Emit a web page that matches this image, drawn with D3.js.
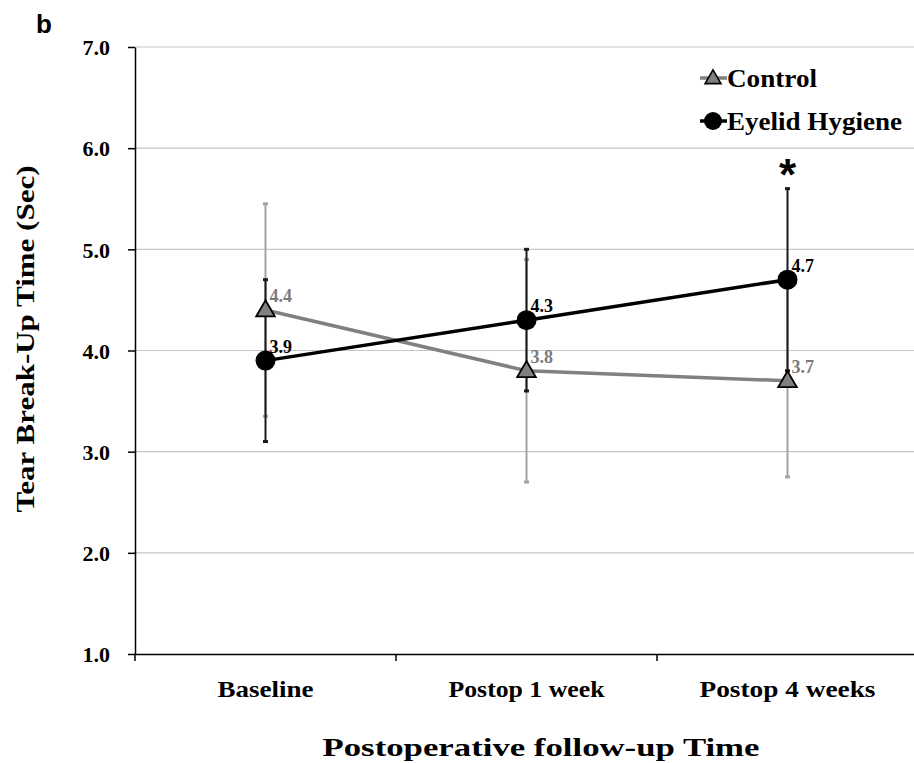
<!DOCTYPE html>
<html>
<head>
<meta charset="utf-8">
<script src="https://cdn.jsdelivr.net/npm/d3@7"></script>
<style>
  body { margin: 0; background: #fff; }
  text { font-family: "Times New Roman", Times, "Liberation Serif", "Nimbus Roman", serif; font-weight: bold; }
</style>
</head>
<body>
<svg id="chart" width="914" height="763"></svg>
<script>
const categories = ['Baseline', 'Postop 1 week', 'Postop 4 weeks'];
const controlMean = [4.4, 3.8, 3.7];
const controlErr = [1.05, 1.1, 0.95];
const hygieneMean = [3.9, 4.3, 4.7];
const hygieneErr = [0.8, 0.7, 0.9];
const yTicks = [1, 2, 3, 4, 5, 6, 7];
const significant = [false, false, true];

const serif = '"Times New Roman", Times, "Liberation Serif", serif';
const svg = d3.select('#chart');
const width = 914;
const margin = { top: 47, left: 135, bottom: 654 };

const x = d3.scaleBand().domain(categories).range([margin.left, 918]);
const y = d3.scaleLinear().domain([1, 7]).range([margin.bottom, margin.top]);
const cx = (d) => x(d) + x.bandwidth() / 2;

// gridlines
svg.append('g')
  .selectAll('line')
  .data(yTicks.slice(1))
  .join('line')
  .attr('x1', margin.left).attr('x2', width)
  .attr('y1', (d) => y(d)).attr('y2', (d) => y(d))
  .attr('stroke', '#c6c6c6').attr('stroke-width', 1.2);

// y axis
const yAxis = svg.append('g')
  .attr('transform', `translate(${margin.left},0)`)
  .call(d3.axisLeft(y).tickValues(yTicks).tickFormat(d3.format('.1f')).tickSize(7).tickSizeOuter(0));
yAxis.select('.domain').attr('stroke', '#000').attr('stroke-width', 1.5);
yAxis.selectAll('.tick line').attr('stroke', '#000').attr('stroke-width', 1.5);
yAxis.selectAll('.tick text')
  .attr('x', -25).attr('dy', '0.35em')
  .style('font-family', serif)
  .style('font-weight', 'bold').style('font-size', '22px').attr('fill', '#000');

// x axis
const xAxis = svg.append('g')
  .attr('transform', `translate(0,${margin.bottom})`)
  .call(d3.axisBottom(x).tickSize(0).tickSizeOuter(0));
xAxis.select('.domain').attr('stroke', '#000').attr('stroke-width', 1.5);
xAxis.selectAll('.tick text')
  .attr('y', 43).attr('dy', 0)
  .style('font-family', serif)
  .style('font-weight', 'bold').style('font-size', '24px').attr('fill', '#000')
  .attr('textLength', (d, i) => [96, 156, 176][i])
  .attr('lengthAdjust', 'spacingAndGlyphs');
// boundary ticks between categories
xAxis.selectAll('.bound')
  .data(categories)
  .join('line')
  .attr('class', 'bound')
  .attr('x1', (d) => x(d)).attr('x2', (d) => x(d))
  .attr('y1', 0).attr('y2', 7)
  .attr('stroke', '#000').attr('stroke-width', 1.5);

// error bars
function errorBars(mean, err, color) {
  const g = svg.append('g').attr('stroke', color).attr('stroke-width', 2);
  g.selectAll('line.v')
    .data(categories)
    .join('line')
    .attr('class', 'v')
    .attr('x1', (d) => cx(d)).attr('x2', (d) => cx(d))
    .attr('y1', (d, i) => y(mean[i] - err[i]))
    .attr('y2', (d, i) => y(mean[i] + err[i]));
  [-1, 1].forEach((s) => {
    g.selectAll('line.c' + (s + 1))
      .data(categories)
      .join('line')
      .attr('class', 'c' + (s + 1))
      .attr('x1', (d) => cx(d) - 2.5).attr('x2', (d) => cx(d) + 2.5)
      .attr('y1', (d, i) => y(mean[i] + s * err[i]))
      .attr('y2', (d, i) => y(mean[i] + s * err[i]))
      .attr('stroke-width', 3);
  });
}
errorBars(controlMean, controlErr, '#a3a3a3');
errorBars(hygieneMean, hygieneErr, '#1a1a1a');

// lines
const line = (vals) => d3.line().x((d) => cx(d)).y((d, i) => y(vals[i]))(categories);
svg.append('path').attr('d', line(controlMean))
  .attr('fill', 'none').attr('stroke', '#808080').attr('stroke-width', 3.5);
svg.append('path').attr('d', line(hygieneMean))
  .attr('fill', 'none').attr('stroke', '#000').attr('stroke-width', 3.5);

// markers
const tri = d3.symbol().type(d3.symbolTriangle).size(150);
svg.append('g')
  .selectAll('path')
  .data(categories)
  .join('path')
  .attr('d', tri)
  .attr('transform', (d, i) => `translate(${cx(d)},${y(controlMean[i]) + 1})`)
  .attr('fill', '#808080').attr('stroke', '#000').attr('stroke-width', 1.8);
svg.append('g')
  .selectAll('circle')
  .data(categories)
  .join('circle')
  .attr('cx', (d) => cx(d)).attr('cy', (d, i) => y(hygieneMean[i]))
  .attr('r', 10).attr('fill', '#000');

// data labels
svg.append('g')
  .selectAll('text')
  .data(categories)
  .join('text')
  .attr('x', (d) => cx(d) + 4).attr('y', (d, i) => y(controlMean[i]) - 8)
  .attr('fill', '#7a7a7a').style('font-size', '18px')
  .text((d, i) => controlMean[i].toFixed(1));
svg.append('g')
  .selectAll('text')
  .data(categories)
  .join('text')
  .attr('x', (d) => cx(d) + 4).attr('y', (d, i) => y(hygieneMean[i]) - 8)
  .attr('fill', '#000').style('font-size', '18px')
  .text((d, i) => hygieneMean[i].toFixed(1));

// significance mark
svg.append('g')
  .selectAll('text')
  .data(categories.filter((d, i) => significant[i]))
  .join('text')
  .attr('x', (d) => cx(d)).attr('y', 190)
  .attr('text-anchor', 'middle')
  .style('font-family', '"Liberation Sans", Arial, sans-serif')
  .style('font-size', '44px')
  .text('*');

// legend
const legend = svg.append('g');
legend.append('line').attr('x1', 700).attr('x2', 727).attr('y1', 78).attr('y2', 78)
  .attr('stroke', '#808080').attr('stroke-width', 3.5);
legend.append('path').attr('d', d3.symbol().type(d3.symbolTriangle).size(110))
  .attr('transform', 'translate(713,79)')
  .attr('fill', '#808080').attr('stroke', '#000').attr('stroke-width', 1.6);
legend.append('text').attr('x', 727).attr('y', 87).style('font-size', '25px')
  .attr('textLength', 90).attr('lengthAdjust', 'spacingAndGlyphs')
  .text('Control');
legend.append('line').attr('x1', 700).attr('x2', 727).attr('y1', 121).attr('y2', 121)
  .attr('stroke', '#000').attr('stroke-width', 3.5);
legend.append('circle').attr('cx', 713).attr('cy', 121).attr('r', 9).attr('fill', '#000');
legend.append('text').attr('x', 727).attr('y', 130).style('font-size', '25px')
  .attr('textLength', 175).attr('lengthAdjust', 'spacingAndGlyphs')
  .text('Eyelid Hygiene');

// axis titles
svg.append('text')
  .attr('transform', 'translate(34,339) rotate(-90)')
  .attr('text-anchor', 'middle').style('font-size', '25px')
  .attr('textLength', 347).attr('lengthAdjust', 'spacingAndGlyphs')
  .text('Tear Break-Up Time (Sec)');
svg.append('text')
  .attr('x', 541).attr('y', 756)
  .attr('text-anchor', 'middle').style('font-size', '26px')
  .attr('textLength', 437).attr('lengthAdjust', 'spacingAndGlyphs')
  .text('Postoperative follow-up Time');

// panel letter
svg.append('text').attr('x', 36).attr('y', 33)
  .style('font-family', '"Liberation Sans", Arial, sans-serif')
  .style('font-size', '26px').text('b');
</script>
</body>
</html>
